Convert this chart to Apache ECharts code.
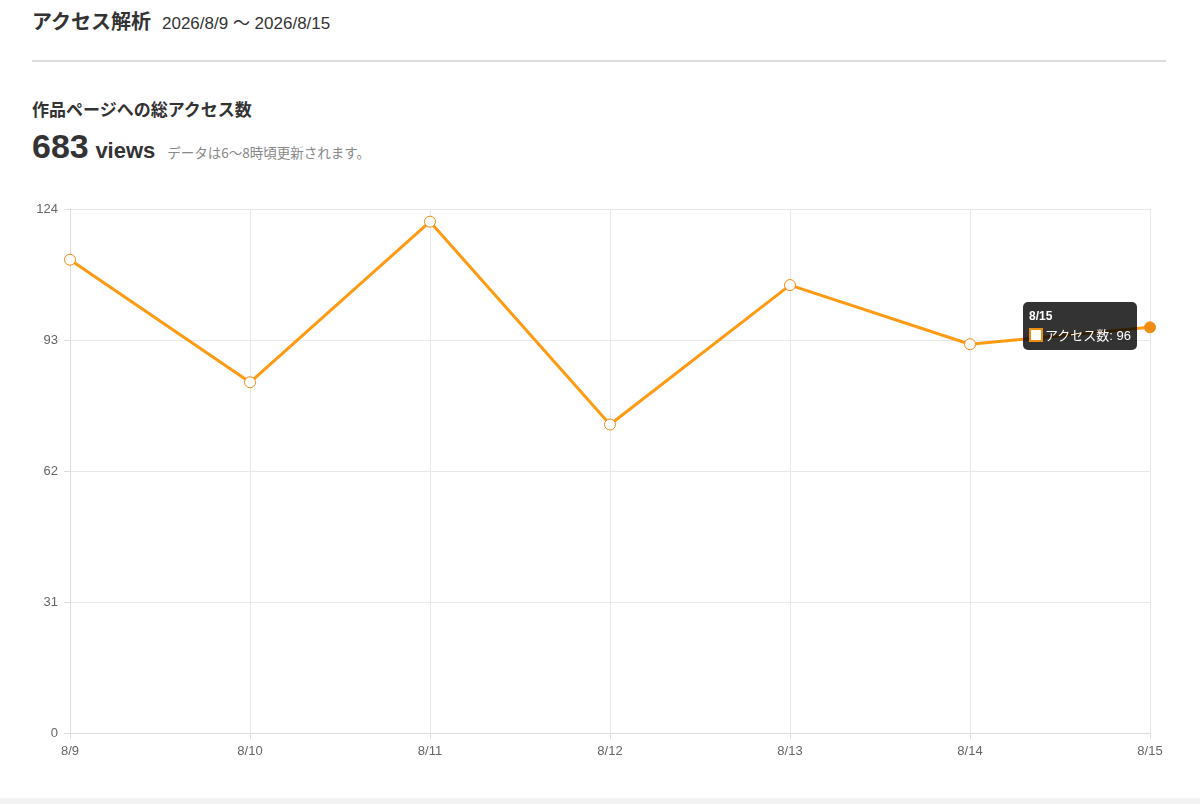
<!DOCTYPE html>
<html>
<head>
<meta charset="utf-8">
<script src="https://cdn.jsdelivr.net/npm/echarts@6/dist/echarts.min.js"></script>
<style>
  html, body { margin: 0; padding: 0; background: #fff; }
  body { width: 1200px; height: 804px; position: relative; overflow: hidden;
         font-family: "Noto Sans CJK JP", "Noto Sans", sans-serif; color: #333; }
  .head { position: absolute; left: 32px; top: 6px; white-space: nowrap; }
  .head b { font-size: 20px; }
  .head span { font-size: 17px; margin-left: 11px; font-family: "Liberation Sans", "Noto Sans CJK JP", sans-serif; }
  .rule { position: absolute; left: 32px; top: 60px; width: 1134px; height: 2px; background: #ddd; }
  .sub { position: absolute; left: 32px; top: 96px; font-size: 17px; font-weight: bold; }
  .total { position: absolute; left: 32px; top: 127px; white-space: nowrap; font-weight: bold; }
  .total .num { font-size: 34px; font-family: "Liberation Sans", Arial, sans-serif; }
  .total .unit { font-size: 22px; font-family: "Liberation Sans", Arial, sans-serif; margin-left: 3px; }
  .total .note { font-size: 13.5px; font-weight: normal; color: #888; margin-left: 12px; }
  #echarts { position: absolute; left: 0; top: 180px; width: 1200px; height: 618px; }
  .foot { position: absolute; left: 0; top: 798px; width: 1200px; height: 6px; background: #f2f2f2; }
</style>
</head>
<body>
<div class="head"><b>アクセス解析</b><span>2026/8/9 〜 2026/8/15</span></div>
<div class="rule"></div>
<div class="sub">作品ページへの総アクセス数</div>
<div class="total"><span class="num">683</span> <span class="unit">views</span><span class="note">データは6〜8時頃更新されます。</span></div>
<div id="echarts"></div>
<div class="foot"></div>
<script>
var days = ['8/9', '8/10', '8/11', '8/12', '8/13', '8/14', '8/15'];
var views = [112, 83, 121, 73, 106, 92, 96];
var seriesName = 'アクセス数';

var lineColor = '#ef8c12';
var myChart = echarts.init(document.getElementById('echarts'));

var option = {
    animation: false,
    textStyle: { fontFamily: '"Liberation Sans", "Noto Sans CJK JP", sans-serif' },
    tooltip: {
        trigger: 'axis',
        alwaysShowContent: true,
        axisPointer: { type: 'none' },
        backgroundColor: 'rgba(0,0,0,0.8)',
        borderWidth: 0,
        padding: [6, 6],
        extraCssText: 'border-radius:5px;box-shadow:none;',
        position: [1023, 122],
        formatter: function (params) {
            var p = params[0];
            return '<div style="color:#fff;font-size:12px;font-weight:bold;line-height:16px;margin-bottom:4px;">' + p.name + '</div>' +
                '<div style="color:#fff;font-size:13px;line-height:16px;font-family:\'Liberation Sans\',\'Noto Sans CJK JP\',sans-serif;">' +
                '<span style="display:inline-block;box-sizing:border-box;width:14px;height:14px;background:#fff;border:2px solid ' + lineColor + ';vertical-align:-2px;margin-right:2px;"></span>' +
                p.seriesName + ': ' + p.value + '</div>';
        }
    },
    grid: {
        left: 70,
        right: 50,
        top: 29,
        bottom: 65
    },
    xAxis: {
        type: 'category',
        boundaryGap: false,
        data: days,
        axisLine: { lineStyle: { color: '#ddd' } },
        axisTick: { show: true, length: 6, lineStyle: { color: '#ddd' } },
        axisLabel: { color: '#666', fontSize: 13, margin: 12 },
        splitLine: { show: true, lineStyle: { color: '#e8e8e8' } }
    },
    yAxis: {
        type: 'value',
        min: 0,
        max: 124,
        interval: 31,
        axisLine: { show: true, lineStyle: { color: '#ddd' } },
        axisTick: { show: true, length: 6, lineStyle: { color: '#ddd' } },
        axisLabel: { color: '#666', fontSize: 13, margin: 12 },
        splitLine: { show: true, lineStyle: { color: '#e8e8e8' } }
    },
    series: [
        {
            name: seriesName,
            type: 'line',
            data: views,
            symbol: 'circle',
            symbolSize: 11,
            lineStyle: { color: lineColor, width: 3 },
            itemStyle: { color: '#fff', borderColor: lineColor, borderWidth: 1 },
            emphasis: {
                scale: false,
                itemStyle: { color: lineColor, borderColor: lineColor }
            }
        }
    ]
};
myChart.setOption(option);
myChart.dispatchAction({ type: 'showTip', seriesIndex: 0, dataIndex: views.length - 1 });
myChart.dispatchAction({ type: 'highlight', seriesIndex: 0, dataIndex: views.length - 1 });
</script>
</body>
</html>
